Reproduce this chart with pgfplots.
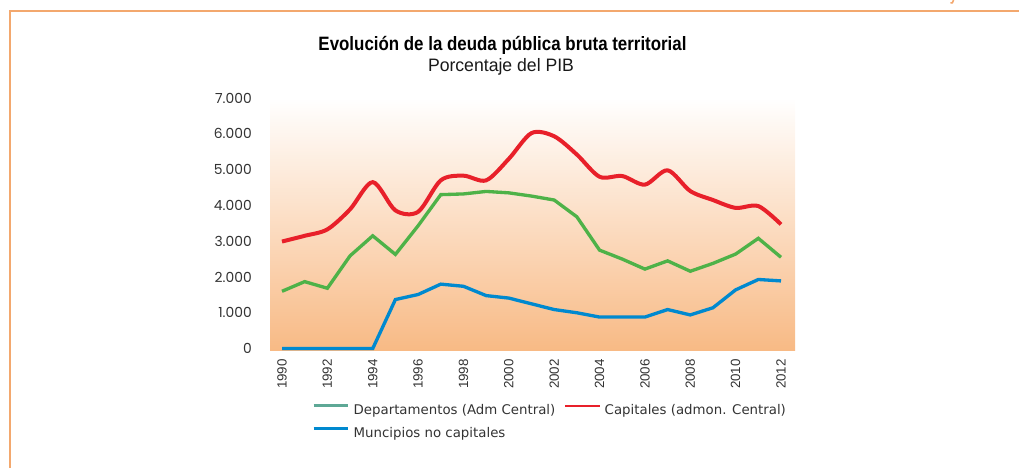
\documentclass[border=0pt]{standalone}
\usepackage{fontspec}
\setmainfont{Liberation Sans}
\newfontfamily\dejavu{DejaVu Sans}
\newfontfamily\poppins{Poppins}
\usepackage{graphicx}
\usepackage{xcolor}
\usepackage{pgfplots}
\pgfplotsset{compat=1.18}

\definecolor{framec}{RGB}{243,168,110}
\definecolor{bgbot}{RGB}{248,186,133}
\definecolor{redc}{RGB}{232,32,42}
\definecolor{greenc}{RGB}{78,178,72}
\definecolor{bluec}{RGB}{0,137,207}
\definecolor{tealc}{RGB}{94,168,150}
\definecolor{txt}{RGB}{51,51,51}

\begin{document}
\begin{tikzpicture}[x=0.75pt,y=0.75pt]
\path[use as bounding box] (0,0) rectangle (1019,468);
% frame of the page
\draw[framec, line width=1.5pt] (9.5,0) -- (9.5,457) -- (1019,457);
\draw[framec, line width=1.2pt] (953.5,468) .. controls (953,465) and (952,464.5) .. (950.5,465);

% titles
\node[anchor=base, text=black] at (502.5,417)
  {\resizebox{276pt}{\height}{\fontsize{14.5}{16}\selectfont\bfseries Evolución de la deuda pública bruta territorial}};
\node[anchor=base, text=black!90] at (501,396.3)
  {\resizebox{109.5pt}{\height}{\fontsize{13.5}{15}\selectfont Porcentaje del PIB}};

\begin{axis}[
    at={(202.5pt,88.5pt)}, anchor=south west,
    scale only axis,
    width=393.75pt, height=189pt,
    xmin=1989.471, xmax=2012.617,
    ymin=-40, ymax=7000,
    clip=false,
    axis line style={draw=none},
    major tick length=0pt,
    axis background/.style={top color=white, bottom color=bgbot},
    xtick={1990,1992,...,2012},
    ytick={0,1000,...,7000},
    scaled y ticks=false,
    /pgf/number format/assume math mode=true,
    yticklabel style={/pgf/number format/.cd, fixed, precision=0, 1000 sep={.}, /tikz/.cd,
        font=\poppins\fontsize{10.4}{11}\selectfont, text=txt, inner sep=0pt, anchor=east, xshift=-13.5pt},
    xticklabel style={/pgf/number format/.cd, 1000 sep={}, /tikz/.cd,
        font=\fontsize{10}{10}\selectfont, text=txt, inner sep=0pt, yshift=-6.75pt, rotate=90, anchor=east},
    legend style={at={(0.08,-0.2143)}, anchor=north west, draw=none, fill=none,
        inner sep=0pt, outer sep=0pt,
        font=\dejavu\fontsize{10}{12}\selectfont, text=txt,
        nodes={inner sep=0pt, text height=7.5pt, text depth=2pt},
        row sep=7.75pt,
        /tikz/every odd column/.append style={column sep=3pt},
        /tikz/every even column/.append style={column sep=6.5pt}},
    legend columns=2,
    legend cell align=left,
    legend image code/.code={\draw[#1] (0pt,3.6pt) -- (26pt,3.6pt);},
]
% Capitales (admon. Central)
\addplot[redc, line width=3pt, smooth, forget plot] coordinates {
 (1990,2990) (1991,3150) (1992,3330) (1993,3890) (1994,4650) (1995,3860)
 (1996,3820) (1997,4700) (1998,4830) (1999,4700) (2000,5300) (2001,6020)
 (2002,5930) (2003,5420) (2004,4800) (2005,4820) (2006,4580) (2007,4980)
 (2008,4400) (2009,4150) (2010,3930) (2011,3980) (2012,3470)
};
% Departamentos (Adm Central)
\addplot[greenc, line width=2.5pt, forget plot] coordinates {
 (1990,1600) (1991,1870) (1992,1685) (1993,2590) (1994,3150) (1995,2630)
 (1996,3430) (1997,4300) (1998,4320) (1999,4390) (2000,4350) (2001,4260)
 (2002,4150) (2003,3680) (2004,2750) (2005,2500) (2006,2220) (2007,2450)
 (2008,2160) (2009,2380) (2010,2640) (2011,3080) (2012,2550)
};
% Muncipios no capitales
\addplot[bluec, line width=2.5pt, forget plot] coordinates {
 (1990,0) (1991,0) (1992,0) (1993,0) (1994,0) (1995,1370)
 (1996,1510) (1997,1800) (1998,1740) (1999,1480) (2000,1410) (2001,1250)
 (2002,1090) (2003,1000) (2004,880) (2005,880) (2006,880) (2007,1090)
 (2008,940) (2009,1140) (2010,1640) (2011,1930) (2012,1890)
};
\addlegendimage{tealc, line width=2.25pt}
\addlegendentry{Departamentos (Adm Central)}
\addlegendimage{redc, line width=1.5pt}
\addlegendentry{Capitales (admon. Central)}
\addlegendimage{bluec, line width=2.25pt}
\addlegendentry{Muncipios no capitales}
\end{axis}
\end{tikzpicture}
\end{document}
